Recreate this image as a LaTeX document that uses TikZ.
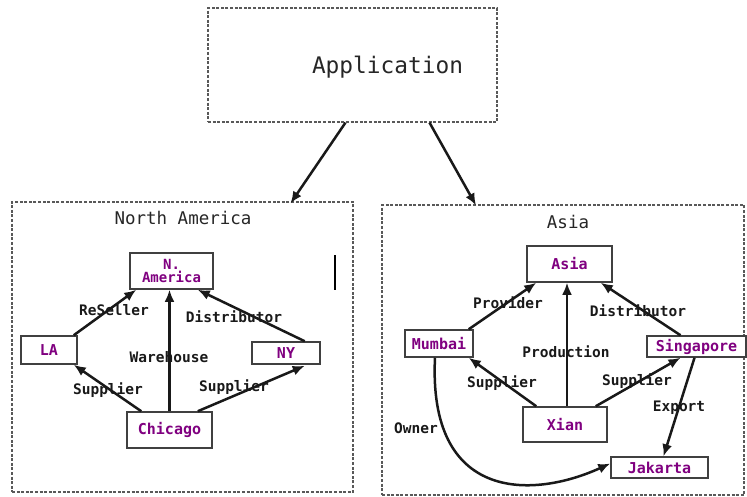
\documentclass[tikz,border=0pt]{standalone}
\usepackage{fontspec}
\newfontfamily\mono{DejaVu Sans Mono}
\usetikzlibrary{arrows.meta}
\definecolor{nodepurple}{RGB}{128,0,128}
\definecolor{edgegray}{RGB}{25,25,25}
\begin{document}
\begin{tikzpicture}[x=1pt,y=-1pt,
  region/.style={draw=black!65, line width=1.2pt, dash pattern=on 3pt off 1.6pt},
  city/.style={draw=black!75, line width=1.5pt, fill=white, inner sep=0pt, font=\mono\bfseries\fontsize{15}{15}\selectfont, text=nodepurple, align=center},
  lbl/.style={font=\mono\bfseries\fontsize{14.5}{16}\selectfont, text=black!90, inner sep=0pt},
  ttl/.style={font=\mono\fontsize{17.5}{19}\selectfont, text=black!85, inner sep=0pt},
  arr/.style={draw=edgegray, line width=2.5pt, -{Latex[length=12pt,width=10pt]}}]
\useasboundingbox (0,0) rectangle (747,497);
% application
\node[region, minimum width=289pt, minimum height=114pt, inner sep=0pt] (app) at (352.5,65) {};
\node[font=\mono\fontsize{22.8}{24}\selectfont, text=black!85, inner sep=0pt] (apptext) at (387.5,67) {Application};
% regions
\node[region, minimum width=341pt, minimum height=290pt, inner sep=0pt] (nabox) at (182.5,347) {};
\node[region, minimum width=362pt, minimum height=290pt, inner sep=0pt] (asbox) at (563,350) {};
\node[ttl] (natitle) at (183,218) {North America};
\node[ttl] (astitle) at (568,222) {Asia};
\draw[arr] ([xshift=-7pt]app.south) -- ([xshift=108pt,yshift=-2pt]nabox.north);
\draw[arr] ([xshift=77pt]app.south) -- ([xshift=-87pt,yshift=-1pt]asbox.north);
% North America nodes
\node[city, minimum width=83pt, minimum height=36pt, font=\mono\bfseries\fontsize{14}{13}\selectfont] (nam) at (171.5,271) {N.\\America};
\node[city, minimum width=56pt, minimum height=28pt] (la) at (49,350) {LA};
\node[city, minimum width=68pt, minimum height=22pt] (ny) at (286,353) {NY};
\node[city, minimum width=85pt, minimum height=36pt] (chi) at (169.5,430) {Chicago};
\draw[arr] ([xshift=-4pt]la.north east) -- ([xshift=7pt]nam.south west);
\draw[arr] ([xshift=-16pt]ny.north east) -- ([xshift=-16pt]nam.south east);
\draw[arr] (chi.north) -- (chi.north |- nam.south);
\draw[arr] ([xshift=15pt]chi.north west) -- ([xshift=-4pt]la.south east);
\draw[arr] ([xshift=-15pt]chi.north east) -- ([xshift=-16pt,yshift=-1pt]ny.south east);
\node[lbl] (l1) at (114,310) {ReSeller};
\node[lbl] (l2) at (234,317) {Distributor};
\node[lbl] (l3) at (169,357) {Warehouse};
\node[lbl] (l4) at (108,390) {Supplier};
\node[lbl] (l5) at (234,387) {Supplier};
% stray mark
\draw[black, line width=1.8pt] (335,255) -- (335,290);
% Asia nodes
\node[city, minimum width=85pt, minimum height=36pt] (asia) at (569.5,264) {Asia};
\node[city, minimum width=68pt, minimum height=27pt] (mum) at (439,343.5) {Mumbai};
\node[city, minimum width=99pt, minimum height=21pt] (sin) at (696.5,346.5) {Singapore};
\node[city, minimum width=84pt, minimum height=35pt] (xian) at (565,424.5) {Xian};
\node[city, minimum width=97pt, minimum height=21pt] (jak) at (659.5,467.5) {Jakarta};
\draw[arr] ([xshift=-5pt]mum.north east) -- ([xshift=10pt]asia.south west);
\draw[arr] ([xshift=-16pt]sin.north) -- ([xshift=-12pt]asia.south east);
\draw[arr] ([xshift=2pt]xian.north) -- ([xshift=2pt]xian.north |- asia.south);
\draw[arr] ([xshift=14pt]xian.north west) -- ([xshift=-5pt]mum.south east);
\draw[arr] ([xshift=-12pt]xian.north east) -- ([xshift=-16pt]sin.south);
\draw[arr] ([xshift=-2pt]sin.south) -- ([xshift=4pt]jak.north);
\draw[arr] ([xshift=-4pt]mum.south) .. controls (428,500) and (530,500) .. ([yshift=4pt]jak.west);
\node[lbl] (m1) at (508,303) {Provider};
\node[lbl] (m2) at (638,311) {Distributor};
\node[lbl] (m3) at (566,352) {Production};
\node[lbl] (m4) at (502,383) {Supplier};
\node[lbl] (m5) at (637,381) {Supplier};
\node[lbl] (m6) at (679,408) {Export};
\node[lbl] (m7) at (416,428) {Owner};
\end{tikzpicture}
\end{document}
